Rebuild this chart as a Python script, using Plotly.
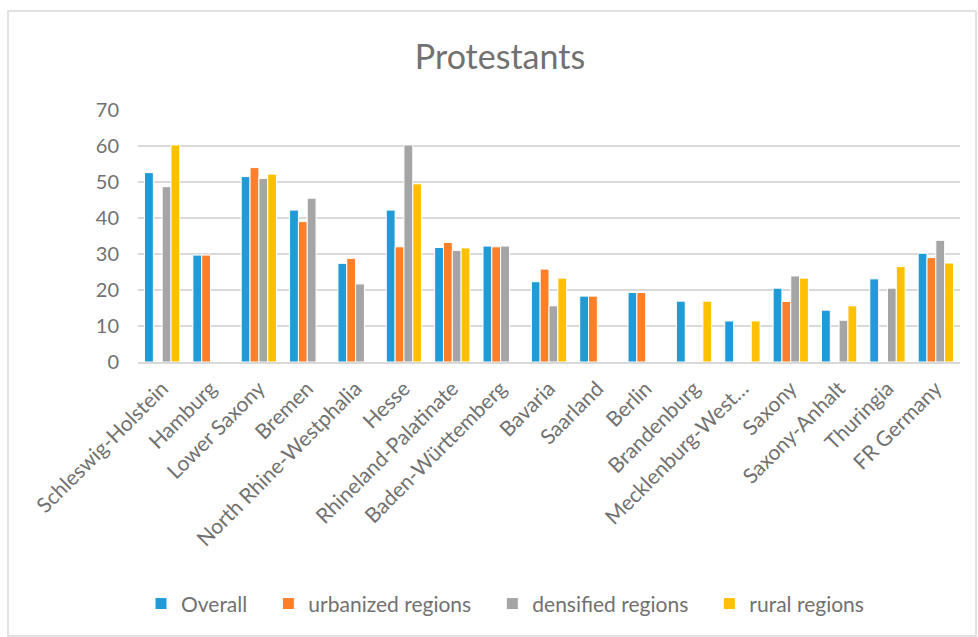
import plotly.graph_objects as go

categories = ["Schleswig-Holstein", "Hamburg", "Lower Saxony", "Bremen", "North Rhine-Westphalia",
              "Hesse", "Rhineland-Palatinate", "Baden-Württemberg", "Bavaria", "Saarland", "Berlin",
              "Brandenburg", "Mecklenburg-West…", "Saxony", "Saxony-Anhalt", "Thuringia", "FR Germany"]
overall = [52.6, 29.7, 51.5, 42.2, 27.4, 42.2, 31.8, 32.2, 22.3, 18.3, 19.3, 16.9, 11.4, 20.5, 14.4, 23.1, 30.2]
urbanized = [None, 29.7, 54.0, 39.0, 28.8, 32.0, 33.2, 32.0, 25.8, 18.3, 19.3, None, None, 16.8, None, None, 29.0]
densified = [48.7, None, 51.0, 45.5, 21.7, 60.3, 31.0, 32.2, 15.6, None, None, None, None, 23.9, 11.6, 20.5, 33.8]
rural = [60.3, None, 52.2, None, None, 49.5, 31.7, None, 23.3, None, None, 16.9, 11.4, 23.3, 15.6, 26.5, 27.5]

series_names = ["Overall", "urbanized regions", "densified regions", "rural regions"]
series_values = [overall, urbanized, densified, rural]
series_colors = ["#1F9BD8", "#FD7F2A", "#A5A5A5", "#FFC000"]

FONT = "Lato"
TXT = "#717171"
PAD = "\u00a0\u00a0\u00a0"
fig = go.Figure()
for i, (name, vals, col) in enumerate(zip(series_names, series_values, series_colors)):
    label = name + (PAD if i < len(series_names) - 1 else "")
    fig.add_trace(go.Bar(x=categories, y=vals, name=label,
                         marker=dict(color=col, line=dict(color="white", width=1))))

fig.update_layout(
    width=978, height=637,
    margin=dict(l=138, r=18, t=110, b=275),
    paper_bgcolor="white", plot_bgcolor="white",
    barmode="group", bargap=0.27, bargroupgap=0,
    font=dict(family=FONT, color=TXT, size=20),
    title=dict(text="Protestants", x=500/978, xanchor="center", y=1-57/637, yanchor="middle",
               font=dict(family=FONT, size=34, color=TXT)),
    showlegend=True,
    legend=dict(orientation="h", x=(505-138)/822, xanchor="center", y=-0.96, yanchor="middle",
                font=dict(family=FONT, size=21, color=TXT), itemwidth=30,
                traceorder="normal"),
    xaxis=dict(tickangle=-45, showgrid=False, showline=True, linecolor="#D9D9D9", linewidth=2,
               ticks="", ticklabelstandoff=4, tickfont=dict(family=FONT, size=21, color=TXT)),
    yaxis=dict(range=[0, 70], dtick=10, showgrid=True, gridcolor="#D9D9D9", gridwidth=1.5,
               zeroline=False, showline=False, ticks="", ticklabelstandoff=18,
               tickfont=dict(family=FONT, size=20, color=TXT)),
    shapes=[dict(type="rect", xref="paper", yref="paper",
                 x0=(8-138)/822, x1=(976-138)/822, y0=(362-636)/252, y1=(362-11)/252,
                 line=dict(color="#D9D9D9", width=1.5), fillcolor="rgba(0,0,0,0)", layer="below")],
)
fig.write_html("out.html")
